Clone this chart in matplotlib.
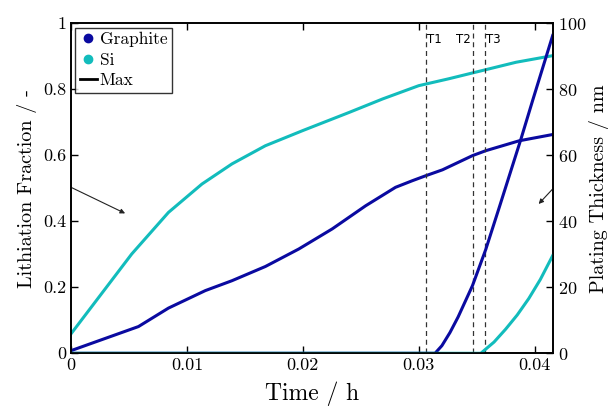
import numpy as np
import matplotlib
matplotlib.use("Agg")
import matplotlib.pyplot as plt
from matplotlib.lines import Line2D

plt.rcParams['font.family'] = 'serif'
plt.rcParams['font.serif'] = ['cmr10', 'DejaVu Serif']
plt.rcParams['axes.formatter.use_mathtext'] = True
plt.rcParams['mathtext.fontset'] = 'cm'

# Lithiation fraction (left axis)
t_si = [0, 0.00524, 0.00841, 0.0113, 0.01389, 0.01677, 0.0200, 0.0240, 0.0269,
        0.0300, 0.0326, 0.0355, 0.0384, 0.04156]
si_lith = [0.059, 0.301, 0.427, 0.513, 0.574, 0.629, 0.675, 0.730, 0.771,
           0.811, 0.832, 0.857, 0.882, 0.902]

t_gr = [0, 0.00582, 0.00841, 0.01159, 0.01389, 0.01677, 0.01965, 0.02254, 0.02542,
        0.0280, 0.02945, 0.0306, 0.03205, 0.03464, 0.03579, 0.03867, 0.04156]
gr_lith = [0.008, 0.081, 0.137, 0.190, 0.220, 0.263, 0.316, 0.377, 0.447,
           0.503, 0.523, 0.538, 0.556, 0.599, 0.614, 0.644, 0.663]

# Plating thickness (right axis, nm)
t_gr_pl = [0, 0.03141, 0.0320, 0.0327, 0.0334, 0.03464, 0.03579, 0.03695,
           0.03882, 0.03983, 0.04156]
gr_plating = [0, 0, 2.3, 6.3, 11.0, 20.5, 31.5, 44.2, 64.9, 76.6, 96.3]

t_si_pl = [0, 0.03536, 0.0365, 0.0375, 0.0385, 0.0395, 0.0405, 0.04156]
si_plating = [0, 0, 3.4, 7.3, 11.6, 16.6, 22.4, 29.6]

# Event times
t_events = [0.0306, 0.0347, 0.0357]
event_labels = ['T1', 'T2', 'T3']

blue = '#0a0aa0'
cyan = '#12bcbc'

fig = plt.figure(figsize=(6.08, 4.12), dpi=100)
ax = fig.add_axes([0.1168, 0.1425, 0.7922, 0.8009])
ax2 = ax.twinx()

ax.plot(t_si, si_lith, color=cyan, lw=2.2)
ax.plot(t_gr, gr_lith, color=blue, lw=2.2)
ax2.plot(t_gr_pl, gr_plating, color=blue, lw=2.2)
ax2.plot(t_si_pl, si_plating, color=cyan, lw=2.2)

for te, lab in zip(t_events, event_labels):
    ax.axvline(te, color='#333333', lw=0.9, ls=(0, (4, 3)))
    if lab == 'T2':
        ax.text(te - 0.0002, 0.952, lab, ha='right', va='center', fontsize=8.5,
                family='DejaVu Sans')
    else:
        ax.text(te + 0.0001, 0.952, lab, ha='left', va='center', fontsize=8.5,
                family='DejaVu Sans')

ax.annotate('', xy=(0.00467, 0.424), xytext=(0, 0.503),
            arrowprops=dict(arrowstyle='-|>', color='#222222', lw=0.8,
                            mutation_scale=7, shrinkA=0, shrinkB=0))
ax.annotate('', xy=(0.04035, 0.4525), xytext=(0.04156, 0.498),
            arrowprops=dict(arrowstyle='-|>', color='#222222', lw=0.8,
                            mutation_scale=7, shrinkA=0, shrinkB=0))

ax.set_xlim(0, 0.04156)
ax.set_ylim(0, 1)
ax2.set_ylim(0, 100)
ax.set_xticks([0, 0.01, 0.02, 0.03, 0.04])
ax.set_xticklabels(['0', '0.01', '0.02', '0.03', '0.04'])
ax.set_yticks([0, 0.2, 0.4, 0.6, 0.8, 1])
ax.set_yticklabels(['0', '0.2', '0.4', '0.6', '0.8', '1'])
ax2.set_yticks([0, 20, 40, 60, 80, 100])

ax.tick_params(axis='both', direction='in', top=True, labelsize=13, length=5, width=1)
ax.tick_params(axis='y', right=False)
ax2.tick_params(axis='y', direction='in', labelsize=13, length=5, width=1)
for a in (ax, ax2):
    for s in a.spines.values():
        s.set_linewidth(1.2)

ax.set_xlabel('Time / h', fontsize=17, labelpad=6)
ax.set_ylabel('Lithiation Fraction / -', fontsize=14.5, labelpad=4)
ax2.set_ylabel('Plating Thickness / nm', fontsize=14.5, labelpad=2)

handles = [Line2D([], [], ls='none', marker='o', ms=6, color=blue),
           Line2D([], [], ls='none', marker='o', ms=6, color=cyan),
           Line2D([], [], color='black', lw=2)]
leg = ax.legend(handles, ['Graphite', 'Si', 'Max'], loc='upper left',
                fontsize=12.5, frameon=True, fancybox=False, handlelength=1.0,
                handletextpad=0.15, borderpad=0.25, labelspacing=0.3,
                borderaxespad=0.25)
leg.get_frame().set_edgecolor('black')
leg.get_frame().set_linewidth(1.0)

fig.savefig('out.png', dpi=100)
